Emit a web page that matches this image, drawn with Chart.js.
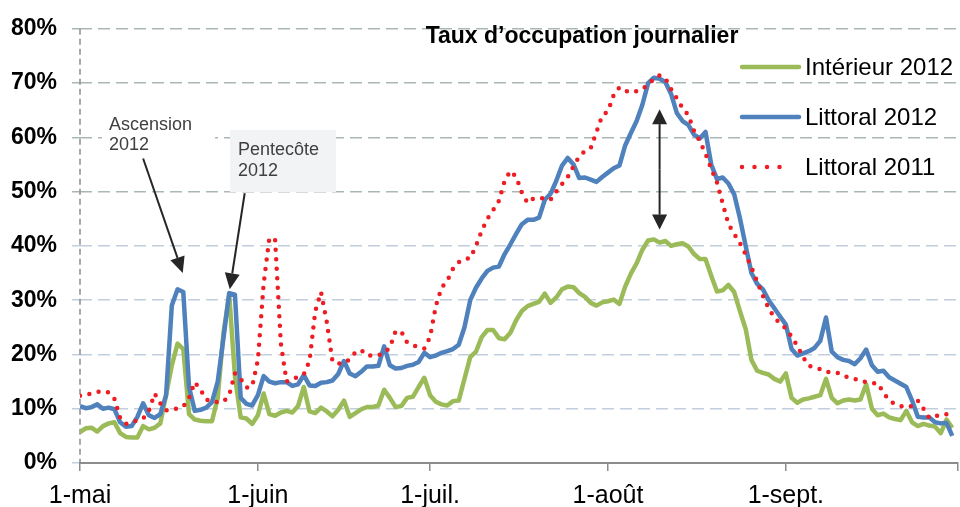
<!DOCTYPE html>
<html>
<head>
<meta charset="utf-8">
<script src="https://cdn.jsdelivr.net/npm/chart.js@4/dist/chart.umd.min.js"></script>
<style>
  html, body { margin: 0; padding: 0; background: #fff; }
</style>
</head>
<body>
<canvas id="chart" width="960" height="507"></canvas>
<script>
// x is the day count from 1 May (day 0) to 1 Oct (day 153)
var monthStarts = [0, 31, 61, 92, 123, 153];
var monthLabels = ['1-mai', '1-juin', '1-juil.', '1-août', '1-sept.', ''];
var seriesNames = ['Intérieur 2012', 'Littoral 2012', 'Littoral 2011'];

var interieur2012 = [
  5.7, 6.4, 6.5, 5.8, 6.8, 7.3, 7.5, 5.5, 4.8, 4.7,
  4.7, 6.8, 6.2, 6.5, 7.3, 12.5, 18, 22, 21, 9,
  8, 7.8, 7.7, 7.7, 12, 24, 31, 16, 8.4, 8.2,
  7.2, 8.8, 12.8, 9, 8.7, 9.3, 9.6, 9.3, 10.5, 14,
  9.5, 9.2, 10.2, 9.5, 8.6, 9.8, 11.5, 8.5, 9.2, 9.9,
  10.3, 10.3, 10.6, 13.5, 12, 10.3, 10.5, 12, 12.2, 14,
  15.7, 12.5, 11.3, 10.8, 10.6, 11.4, 11.5, 15.5, 19.5, 20.5,
  23.2, 24.5, 24.5, 23, 22.8, 24, 26.3, 28, 28.9, 29.3,
  29.7, 31.2, 29.5, 30.5, 32, 32.5, 32.4, 31.3, 30.6, 29.5,
  29, 29.6, 29.8, 30.1, 29.3, 32.5, 34.9, 36.8, 39.3, 41,
  41.2, 40.6, 40.9, 40, 40.3, 40.5, 39.9, 38.5, 37.6, 37.6,
  34.5, 31.6, 31.8, 32.8, 31.5, 28, 24.7, 19, 17, 16.6,
  16.3, 15.5, 15, 16.5, 12, 11.1, 11.7, 11.9, 12.2, 12.5,
  15.5, 12, 11, 11.5, 11.7, 11.5, 11.7, 14.5, 10, 8.8,
  9.1, 8.4, 8.1, 7.9, 9.6, 7.5, 6.8, 7.2, 6.9, 6.7,
  5.5, 8, 6.5
];
var littoral2012 = [
  10.5, 10.1, 10.3, 10.8, 10.0, 10.2, 9.9, 7.5, 6.7, 6.8,
  8.5, 11.0, 8.8, 8.3, 9.0, 12.5, 29, 32, 31.5, 14,
  9.6, 9.8, 10.2, 11.2, 15, 23, 31.3, 31, 12, 10.9,
  10.6, 12.5, 16, 15, 14.7, 14.9, 14.9, 14.2, 14.5, 16.2,
  14.3, 14.2, 14.8, 14.9, 15.2, 16.4, 18.8, 16.5, 16, 16.8,
  17.8, 17.8, 17.9, 21.5, 18, 17.4, 17.5, 17.9, 18.1, 18.6,
  20.3, 19.5, 19.8, 20.3, 20.6, 21, 21.8, 25, 30, 32.3,
  34, 35.4, 36, 36.2, 38.5, 40.3, 42.2, 44, 44.8, 44.8,
  45.2, 48.5, 49.6, 52, 54.8, 56.2, 55, 52.5, 52.6, 52.2,
  51.8, 52.7, 53.5, 54.3, 54.8, 58.5, 60.8, 63, 66, 70,
  71, 70.8, 70.2, 68, 64.5, 63, 62.3, 60.5, 59.8, 61,
  55, 52.3, 52.6, 51.5, 49.5, 45.1, 40, 35, 33, 32,
  30, 28.5, 27, 25.5, 21, 19.8, 20.2, 20.6, 21.2, 22.5,
  26.8, 20.5, 19.5, 19, 18.8, 18.2, 19.3, 20.9, 18, 16.8,
  17, 15.8, 15.2, 14.6, 14, 11.5, 8.5, 8.4, 8.4, 7.5,
  7.3, 7.4, 5
];
var littoral2011 = [
  12.4, 12.6, 12.8, 13.1, 13.2, 13, 11.8, 8.3, 7.2, 7.4,
  7.9, 8.2, 9.6, 12.8, 11, 9.7, 9.8, 10.1, 10.4, 12,
  14.9, 13.5, 11.7, 11.3, 11.2, 11.3, 12.5, 16.5, 15.5, 13.9,
  14.1, 19, 33, 41.5, 41.1, 22, 15, 15.4, 15.9, 16.3,
  18.8, 28, 31.5, 26, 18.7, 18.3, 18.4, 19.1, 20.4, 20.8,
  19.8, 19.8, 19.9, 20.2, 21.3, 24.3, 24.2, 22.2, 21.7, 21.4,
  21.1, 23.2, 28.9, 32.3, 33.6, 35.8, 37, 37.6, 37.7, 40,
  42.8, 45, 46.6, 48.3, 52, 53.8, 52.7, 49.8, 47.9, 48.7,
  48.8, 48.8, 48.5, 50, 51.4, 52.7, 54.7, 56.5, 57.5, 58,
  61, 64, 64.8, 67.8, 69.2, 68.6, 68.3, 68.5, 69, 69.6,
  70.8, 71.4, 70.9, 68.9, 67.2, 65.4, 64.1, 61.2, 59.3, 57,
  54.2, 51.7, 47.8, 44, 42.2, 40.5, 38.4, 36.1, 33.4, 30.8,
  28.5, 26.8, 25.7, 24.8, 23.3, 21.6, 19.5, 17.9, 17.6, 17.3,
  16.8, 16.7, 16.6, 16.1, 15.7, 15.5, 15.2, 14.9, 14.7, 14.7,
  13, 11.5, 10.9, 10.5, 10.3, 10.5, 11.5, 10, 8.3, 8.6,
  8.9, 9, 7.8
];

var FONT = "'Liberation Sans', Arial, sans-serif";
var days = [];
for (let i = 0; i < littoral2012.length; i++) days.push(i);

// arrow from (x1,y1) to the tip (x2,y2)
function arrow(ctx, x1, y1, x2, y2, len, half) {
    var a = Math.atan2(y2 - y1, x2 - x1);
    var bx = x2 - len * Math.cos(a), by = y2 - len * Math.sin(a);
    ctx.beginPath(); ctx.moveTo(x1, y1); ctx.lineTo(bx, by); ctx.stroke();
    ctx.beginPath(); ctx.moveTo(x2, y2);
    ctx.lineTo(bx + half * Math.sin(a), by - half * Math.cos(a));
    ctx.lineTo(bx - half * Math.sin(a), by + half * Math.cos(a));
    ctx.closePath(); ctx.fill();
}

var notesPlugin = {
    id: 'notes',
    beforeDatasetsDraw: function(chart) {
        var ctx = chart.ctx, area = chart.chartArea;
        ctx.save();
        // dashed y axis
        ctx.strokeStyle = '#8c8c8c'; ctx.lineWidth = 1.5; ctx.setLineDash([6, 4]);
        ctx.beginPath(); ctx.moveTo(area.left, area.top); ctx.lineTo(area.left, area.bottom); ctx.stroke();
        ctx.setLineDash([]);
        // text boxes
        ctx.fillStyle = '#ffffff'; ctx.fillRect(102, 106, 113, 48);
        ctx.fillStyle = '#f2f3f5'; ctx.fillRect(230, 130, 106, 62);
        ctx.fillStyle = '#404040'; ctx.font = '18px ' + FONT; ctx.textBaseline = 'alphabetic';
        ctx.fillText('Ascension', 109, 130); ctx.fillText('2012', 109, 150);
        ctx.fillText('Pentecôte', 238, 155); ctx.fillText('2012', 238, 176);
        ctx.restore();
    },
    afterDatasetsDraw: function(chart) {
        var ctx = chart.ctx, xs = chart.scales.x, ys = chart.scales.y;
        var px = function(d) { return xs.getPixelForValue(d); };
        var py = function(v) { return ys.getPixelForValue(v); };
        ctx.save();
        ctx.strokeStyle = '#262626'; ctx.fillStyle = '#262626'; ctx.lineWidth = 2;
        arrow(ctx, px(11), py(56.1), px(17.9), py(35), 16, 7.5);
        arrow(ctx, px(28.7), py(49.7), px(26.1), py(32), 16, 7.5);
        var mid = (py(65.2) + py(43)) / 2;
        arrow(ctx, px(101), mid, px(101), py(65.2), 15, 7.5);
        arrow(ctx, px(101), mid, px(101), py(43), 15, 7.5);

        // title
        ctx.fillStyle = '#000'; ctx.font = 'bold 23px ' + FONT;
        ctx.textAlign = 'center'; ctx.textBaseline = 'alphabetic';
        ctx.fillText('Taux d\u2019occupation journalier', 582, 43);

        // legend
        ctx.textAlign = 'left'; ctx.textBaseline = 'middle'; ctx.font = '24px ' + FONT;
        chart.data.datasets.forEach(function(ds, i) {
            var y = 67 + i * 50;
            ctx.strokeStyle = ds.borderColor; ctx.lineWidth = ds.borderWidth;
            ctx.lineCap = 'round';
            ctx.setLineDash(ds.borderDash ? [0, 12.5] : []);
            ctx.beginPath(); ctx.moveTo(742, y); ctx.lineTo(ds.borderDash ? 792 : 799, y); ctx.stroke();
            ctx.fillStyle = '#000';
            ctx.fillText(ds.label, 805, y + 1);
        });
        ctx.restore();
    }
};

new Chart(document.getElementById('chart'), {
    type: 'line',
    data: {
        labels: days,
        datasets: [
            { label: seriesNames[0], data: interieur2012, borderColor: '#9bbb59', borderWidth: 4.5,
              pointRadius: 0, borderJoinStyle: 'round', order: 3 },
            { label: seriesNames[1], data: littoral2012, borderColor: '#4f81bd', borderWidth: 4.5,
              pointRadius: 0, borderJoinStyle: 'round', order: 2 },
            { label: seriesNames[2], data: littoral2011, borderColor: '#ee1d23', borderWidth: 4.5,
              pointRadius: 0, borderDash: [0, 9.5], borderCapStyle: 'round', order: 1 }
        ]
    },
    options: {
        responsive: false,
        animation: false,
        devicePixelRatio: 1,
        layout: { padding: { top: 27, right: 2, left: 0, bottom: 0 } },
        plugins: { legend: { display: false }, title: { display: false }, tooltip: { enabled: false } },
        scales: {
            x: {
                type: 'linear', min: 0, max: 153,
                afterBuildTicks: function(s) { s.ticks = monthStarts.map(function(v) { return { value: v }; }); },
                afterFit: function(s) { s.height = 44; s.paddingLeft = 0; s.paddingRight = 0; },
                ticks: {
                    autoSkip: false, maxRotation: 0, padding: 10, color: '#000',
                    font: { family: FONT, size: 25 },
                    callback: function(v) { return monthLabels[monthStarts.indexOf(v)]; }
                },
                grid: { drawOnChartArea: false, tickLength: 8, color: '#8c8c8c', lineWidth: 1.5 },
                border: { color: '#8c8c8c', width: 2 }
            },
            y: {
                min: 0, max: 80,
                afterFit: function(s) { s.width = 80; },
                ticks: {
                    stepSize: 10, padding: 15, color: '#000',
                    font: { family: FONT, size: 23, weight: 'bold' },
                    callback: function(v) { return v + '%'; }
                },
                grid: {
                    tickLength: 8, lineWidth: 1.5,
                    color: function(c) { return c.tick && c.tick.value >= 50 ? '#a9b8b4' : '#c0cedd'; }
                },
                border: { display: false, dash: [12, 6] }
            }
        }
    },
    plugins: [notesPlugin]
});
</script>
</body>
</html>
